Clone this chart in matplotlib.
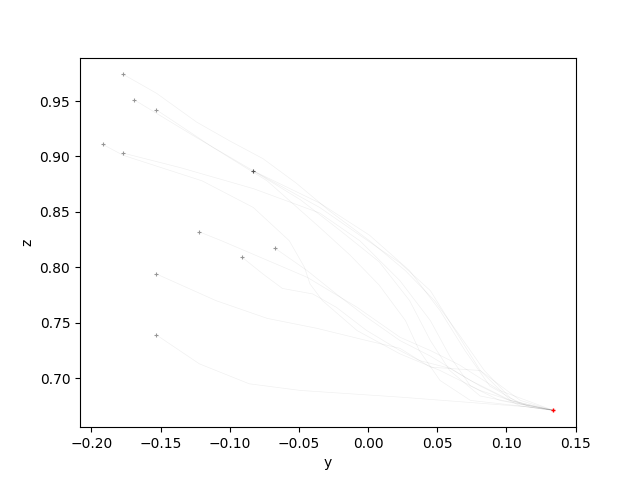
import matplotlib
matplotlib.use("Agg")
import matplotlib.pyplot as plt

# trajectories (y, z)
t1_y = [-0.177, -0.153, -0.124, -0.100, -0.076, -0.052, -0.028, 0.001, 0.027, 0.048, 0.066, 0.084, 0.103, 0.117, 0.134]
t1_z = [0.974, 0.957, 0.931, 0.914, 0.898, 0.876, 0.851, 0.824, 0.797, 0.770, 0.739, 0.707, 0.682, 0.674, 0.671]

t2_y = [-0.169, -0.124, -0.083, -0.035, -0.006, 0.023, 0.045, 0.063, 0.081, 0.103, 0.134]
t2_z = [0.951, 0.917, 0.887, 0.854, 0.829, 0.804, 0.779, 0.743, 0.707, 0.680, 0.671]

t3_y = [-0.153, -0.112, -0.073, -0.035, -0.013, 0.008, 0.027, 0.037, 0.052, 0.074, 0.110, 0.134]
t3_z = [0.942, 0.908, 0.878, 0.836, 0.811, 0.784, 0.752, 0.725, 0.698, 0.680, 0.675, 0.671]

t4_y = [-0.192, -0.177, -0.120, -0.083, -0.057, -0.046, -0.042, -0.033, -0.008, 0.023, 0.052, 0.081, 0.110, 0.134]
t4_z = [0.911, 0.901, 0.878, 0.854, 0.824, 0.800, 0.785, 0.770, 0.743, 0.722, 0.707, 0.689, 0.677, 0.671]

t5_y = [-0.177, -0.136, -0.083, -0.035, -0.006, 0.023, 0.045, 0.059, 0.074, 0.095, 0.134]
t5_z = [0.903, 0.890, 0.871, 0.849, 0.824, 0.788, 0.752, 0.720, 0.693, 0.680, 0.671]

t6_y = [-0.083, -0.035, 0.001, 0.030, 0.052, 0.070, 0.088, 0.110, 0.134]
t6_z = [0.887, 0.858, 0.829, 0.797, 0.761, 0.725, 0.693, 0.677, 0.671]

t7_y = [-0.083, -0.049, -0.020, 0.008, 0.030, 0.045, 0.059, 0.081, 0.134]
t7_z = [0.887, 0.861, 0.833, 0.805, 0.770, 0.734, 0.707, 0.684, 0.671]

t8_y = [-0.122, -0.106, -0.044, -0.008, 0.023, 0.045, 0.066, 0.095, 0.134]
t8_z = [0.832, 0.824, 0.791, 0.764, 0.737, 0.725, 0.712, 0.689, 0.671]

t9_y = [-0.067, -0.044, -0.023, -0.001, 0.023, 0.045, 0.074, 0.103, 0.134]
t9_z = [0.817, 0.797, 0.776, 0.755, 0.734, 0.720, 0.698, 0.680, 0.671]

t10_y = [-0.091, -0.076, -0.062, -0.040, -0.023, -0.001, 0.023, 0.037, 0.059, 0.081, 0.110, 0.134]
t10_z = [0.809, 0.794, 0.781, 0.776, 0.764, 0.743, 0.725, 0.716, 0.709, 0.693, 0.675, 0.671]

t11_y = [-0.153, -0.110, -0.073, -0.037, -0.001, 0.023, 0.045, 0.081, 0.110, 0.134]
t11_z = [0.794, 0.770, 0.754, 0.745, 0.734, 0.727, 0.710, 0.707, 0.680, 0.671]

t12_y = [-0.153, -0.122, -0.086, -0.049, 0.023, 0.117, 0.134]
t12_z = [0.739, 0.713, 0.695, 0.689, 0.683, 0.674, 0.671]

target_y = [0.134]
target_z = [0.671]

trajectories = [
    (t1_y, t1_z), (t2_y, t2_z), (t3_y, t3_z), (t4_y, t4_z),
    (t5_y, t5_z), (t6_y, t6_z), (t7_y, t7_z), (t8_y, t8_z),
    (t9_y, t9_z), (t10_y, t10_z), (t11_y, t11_z), (t12_y, t12_z),
]

fig, ax = plt.subplots(figsize=(6.4, 4.8), dpi=100)
for ys, zs in trajectories:
    ax.plot(ys, zs, color="k", alpha=0.06, lw=0.5)
    ax.plot(ys[0], zs[0], marker="+", color="k", alpha=0.4, ms=3, mew=0.8, ls="none")
ax.plot(target_y, target_z, marker="+", color="red", ms=3, mew=1.0, ls="none")
ax.set_xlabel("y")
ax.set_ylabel("z")
fig.savefig("out.png", dpi=100)
